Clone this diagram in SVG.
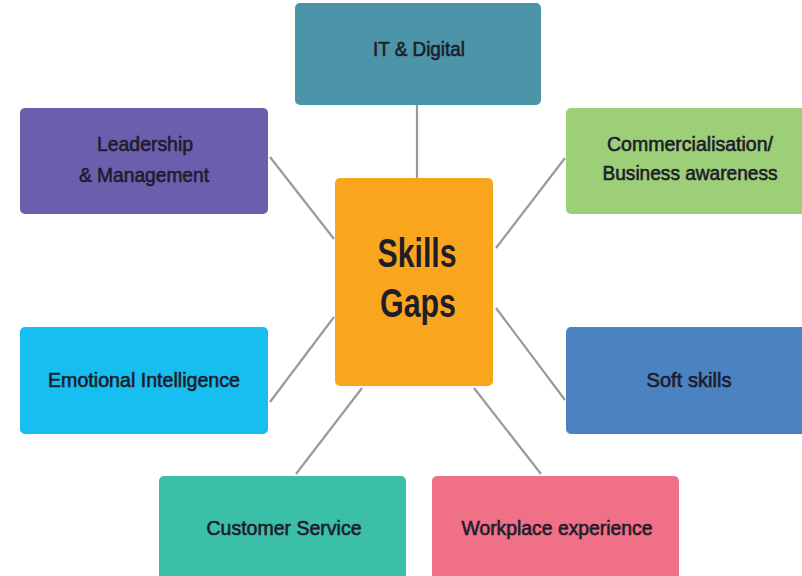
<svg xmlns="http://www.w3.org/2000/svg" width="802" height="576" viewBox="0 0 802 576">
<style>
.box{stroke:none}
.t{font-family:"Liberation Sans",Arial,sans-serif;font-size:19.5px;fill:#1d1d2b;text-anchor:middle;stroke:#1d1d2b;stroke-width:0.6}
.big{font-family:"Liberation Sans",Arial,sans-serif;font-size:40px;font-weight:bold;fill:#1d1d2b;text-anchor:middle}
.c{stroke:#9a9a9a;stroke-width:2.2;fill:none}
</style>
<rect width="802" height="576" fill="#ffffff"/>
<g id="connectors">
<line class="c" x1="417" y1="105" x2="417" y2="179"/>
<line class="c" x1="270" y1="157" x2="334" y2="239"/>
<line class="c" x1="496" y1="248" x2="565" y2="158"/>
<line class="c" x1="270" y1="402" x2="334" y2="317"/>
<line class="c" x1="296" y1="474" x2="362" y2="388"/>
<line class="c" x1="496" y1="308" x2="565" y2="400"/>
<line class="c" x1="474" y1="388" x2="541" y2="474"/>
</g>
<g id="it-digital">
<rect class="box" x="295" y="3" width="246" height="102" rx="5" fill="#4c95a9"/>
<text class="t" x="419" y="56" textLength="92" lengthAdjust="spacingAndGlyphs">IT &amp; Digital</text>
</g>
<g id="leadership">
<rect class="box" x="20" y="108" width="248" height="106" rx="5" fill="#6b5fad"/>
<text class="t" x="145" y="151" textLength="96" lengthAdjust="spacingAndGlyphs">Leadership</text>
<text class="t" x="144" y="182" textLength="130" lengthAdjust="spacingAndGlyphs">&amp; Management</text>
</g>
<g id="commercialisation">
<rect class="box" x="566" y="108" width="250" height="106" rx="5" fill="#9ccf78"/>
<text class="t" x="690" y="151" textLength="166" lengthAdjust="spacingAndGlyphs">Commercialisation/</text>
<text class="t" x="690" y="180" textLength="175" lengthAdjust="spacingAndGlyphs">Business awareness</text>
</g>
<g id="skills-gaps">
<rect class="box" x="335" y="178" width="158" height="208" rx="5" fill="#f9a51d"/>
<text class="big" x="417" y="267" textLength="79" lengthAdjust="spacingAndGlyphs">Skills</text>
<text class="big" x="418" y="317" textLength="76" lengthAdjust="spacingAndGlyphs">Gaps</text>
</g>
<g id="emotional-intelligence">
<rect class="box" x="20" y="327" width="248" height="107" rx="5" fill="#17bff0"/>
<text class="t" x="144" y="387" textLength="192" lengthAdjust="spacingAndGlyphs">Emotional Intelligence</text>
</g>
<g id="soft-skills">
<rect class="box" x="566" y="327" width="250" height="107" rx="5" fill="#4b82c2"/>
<text class="t" x="689" y="387" textLength="85" lengthAdjust="spacingAndGlyphs">Soft skills</text>
</g>
<g id="customer-service">
<rect class="box" x="159" y="476" width="247" height="110" rx="5" fill="#3cbfa9"/>
<text class="t" x="284" y="535" textLength="155" lengthAdjust="spacingAndGlyphs">Customer Service</text>
</g>
<g id="workplace-experience">
<rect class="box" x="432" y="476" width="247" height="110" rx="5" fill="#ef7087"/>
<text class="t" x="557" y="535" textLength="191" lengthAdjust="spacingAndGlyphs">Workplace experience</text>
</g>
</svg>
